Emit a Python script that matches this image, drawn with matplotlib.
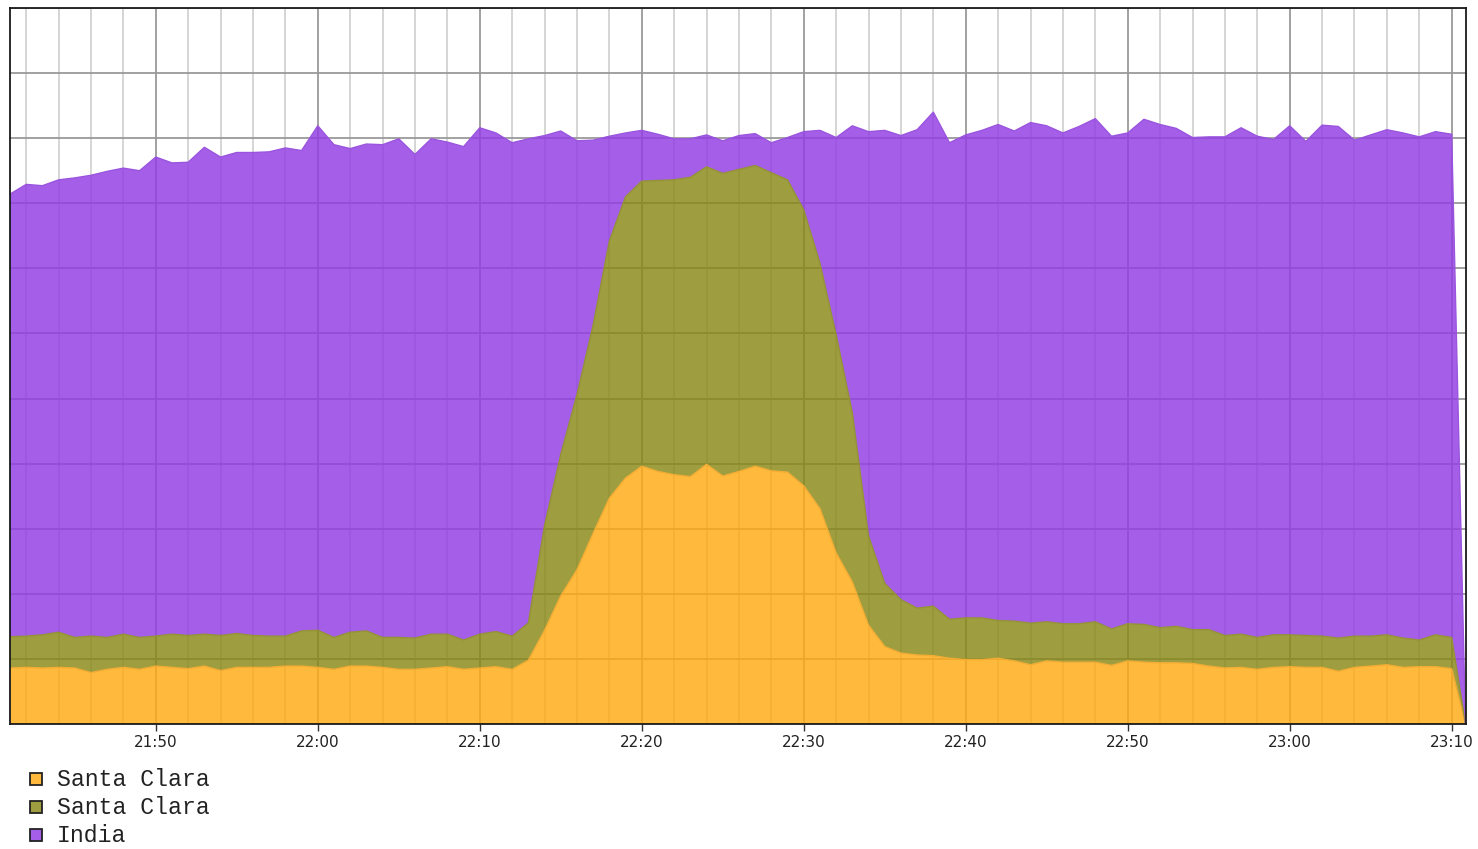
import matplotlib
matplotlib.use("Agg")
import matplotlib.pyplot as plt
import matplotlib.dates as mdates
from matplotlib.patches import Rectangle
import pandas as pd

# ---- data (minute samples 21:41 .. 23:10, then a final zero sample) ----
times = list(pd.date_range("2024-01-01 21:41", periods=90, freq="min")) + [pd.Timestamp("2024-01-01 23:10:51")]

santa_clara_1 = [
    8.6, 8.7, 8.6, 8.7, 8.6, 7.9, 8.4, 8.7, 8.4, 8.9,
    8.7, 8.5, 8.9, 8.2, 8.7, 8.7, 8.7, 8.9, 8.9, 8.7,
    8.4, 8.9, 8.9, 8.7, 8.4, 8.4, 8.6, 8.8, 8.4, 8.6,
    8.8, 8.4, 9.8, 14.4, 19.7, 23.7, 29.3, 34.7, 37.8, 39.6,
    38.8, 38.3, 38.0, 39.9, 38.1, 38.8, 39.6, 38.9, 38.7, 36.6,
    33.1, 26.3, 21.8, 15.2, 11.9, 10.9, 10.6, 10.5, 10.1, 9.9,
    9.9, 10.1, 9.7, 9.1, 9.7, 9.5, 9.5, 9.5, 9.0, 9.7,
    9.5, 9.4, 9.4, 9.3, 8.9, 8.6, 8.7, 8.4, 8.7, 8.8,
    8.7, 8.7, 8.1, 8.7, 8.9, 9.1, 8.7, 8.8, 8.8, 8.5,
    0.0,
]
santa_clara_2 = [
    4.8, 4.8, 5.1, 5.4, 4.7, 5.6, 4.9, 5.1, 4.9, 4.6,
    5.1, 5.1, 4.9, 5.4, 5.2, 4.9, 4.8, 4.6, 5.4, 5.7,
    4.9, 5.2, 5.4, 4.6, 4.9, 4.8, 5.2, 5.0, 4.5, 5.2,
    5.4, 5.1, 5.7, 16.1, 21.7, 26.9, 32.0, 39.5, 43.2, 43.8,
    44.7, 45.3, 46.0, 45.7, 46.5, 46.4, 46.2, 45.8, 44.9, 42.4,
    37.7, 33.5, 26.0, 13.7, 9.7, 8.2, 7.2, 7.6, 6.0, 6.4,
    6.4, 5.8, 6.1, 6.4, 6.0, 5.9, 5.9, 6.2, 5.6, 5.7,
    5.8, 5.4, 5.6, 5.2, 5.6, 5.0, 5.1, 4.9, 5.0, 4.9,
    4.9, 4.8, 5.1, 4.8, 4.6, 4.6, 4.5, 4.1, 4.9, 4.8,
    0.0,
]
india = [
    68.0, 69.4, 69.0, 69.5, 70.6, 70.8, 71.6, 71.6, 71.7, 73.6,
    72.4, 72.7, 74.8, 73.5, 73.9, 74.2, 74.4, 75.0, 73.8, 77.5,
    75.7, 74.3, 74.8, 75.7, 76.6, 74.3, 76.1, 75.6, 75.8, 77.8,
    76.6, 75.8, 74.4, 59.9, 49.7, 39.0, 28.4, 16.1, 9.8, 7.8,
    7.1, 6.3, 5.9, 4.9, 5.0, 5.2, 4.9, 4.6, 6.5, 12.0,
    20.4, 30.3, 44.1, 62.1, 69.6, 71.3, 73.5, 75.9, 73.2, 74.2,
    74.9, 76.2, 75.3, 76.9, 76.2, 75.4, 76.4, 77.3, 75.7, 75.4,
    77.6, 77.3, 76.5, 75.6, 75.7, 76.6, 77.8, 77.0, 76.1, 78.2,
    75.9, 78.5, 78.6, 76.2, 77.0, 77.6, 77.6, 77.3, 77.3, 77.3,
    0.0,
]
labels = ["Santa Clara", "Santa Clara", "India"]
# apparent colours of the areas and of their outlines
colors = ["#FFB93C", "#9E9E40", "#A55EE8"]
edge_colors = ["#F2AC34", "#939336", "#9A54DE"]
FILL_ALPHA = 0.82


def under_color(hex_c, a=FILL_ALPHA):
    """colour that, drawn with alpha a on white, looks like hex_c"""
    r, g, b = [int(hex_c[i:i + 2], 16) for i in (1, 3, 5)]
    f = lambda v: min(max((v - (1 - a) * 255) / a, 0), 255) / 255
    return (f(r), f(g), f(b))


# ---- figure ----
W, H = 1478, 849
fig = plt.figure(figsize=(W / 100, H / 100), dpi=100)
ax = fig.add_axes([10 / W, 1 - 724 / H, (1466 - 10) / W, (724 - 8) / H])

xs = mdates.date2num(times)
ax.stackplot(xs, santa_clara_1, santa_clara_2, india,
             colors=[under_color(c) for c in colors], alpha=FILL_ALPHA,
             labels=labels, linewidth=0, zorder=2)
bottom = [0.0] * len(xs)
for vals, ec in zip([santa_clara_1, santa_clara_2, india], edge_colors):
    top = [b + v for b, v in zip(bottom, vals)]
    ax.plot(xs, top, color=ec, lw=1.0, zorder=2.5)
    bottom = top

ax.set_xlim(mdates.date2num(pd.Timestamp("2024-01-01 21:41")),
            mdates.date2num(pd.Timestamp("2024-01-01 23:10:53")))
ax.set_ylim(0, 110)
ax.set_yticks(range(0, 111, 10))
ax.tick_params(axis="y", left=False, labelleft=False)

ax.xaxis.set_major_locator(mdates.MinuteLocator(byminute=[0, 10, 20, 30, 40, 50]))
ax.xaxis.set_minor_locator(mdates.MinuteLocator(byminute=range(0, 60, 2)))
ax.xaxis.set_major_formatter(mdates.DateFormatter("%H:%M"))
ax.tick_params(axis="x", which="major", length=5, width=1, color="#333333", pad=3,
               labelsize=11, labelcolor="#222222")
ax.tick_params(axis="x", which="minor", length=0)
for lab in ax.get_xticklabels():
    lab.set_fontfamily("DejaVu Sans")

ax.set_axisbelow(True)
ax.grid(True, which="major", axis="both", color="#9a9a9a", lw=1.3)
ax.grid(True, which="minor", axis="x", color="#d2d2d2", lw=1.3)

for sp in ax.spines.values():
    sp.set_color("#1a1a1a")
    sp.set_linewidth(1.3)
    sp.set_zorder(4)

# ---- legend (drawn in figure pixel positions) ----
for i, (lab, c) in enumerate(zip(labels, colors)):
    yc = 779 + 28 * i
    fig.patches.append(Rectangle((30 / W, 1 - (yc + 6) / H), 12 / W, 12 / H,
                                 transform=fig.transFigure, facecolor=c,
                                 edgecolor="#222222", lw=1.3))
    fig.text(57 / W, 1 - (yc + 1) / H, lab, ha="left", va="center",
             family="Liberation Mono", fontsize=16.7, color="#222222")

fig.savefig("out.png", dpi=100)
